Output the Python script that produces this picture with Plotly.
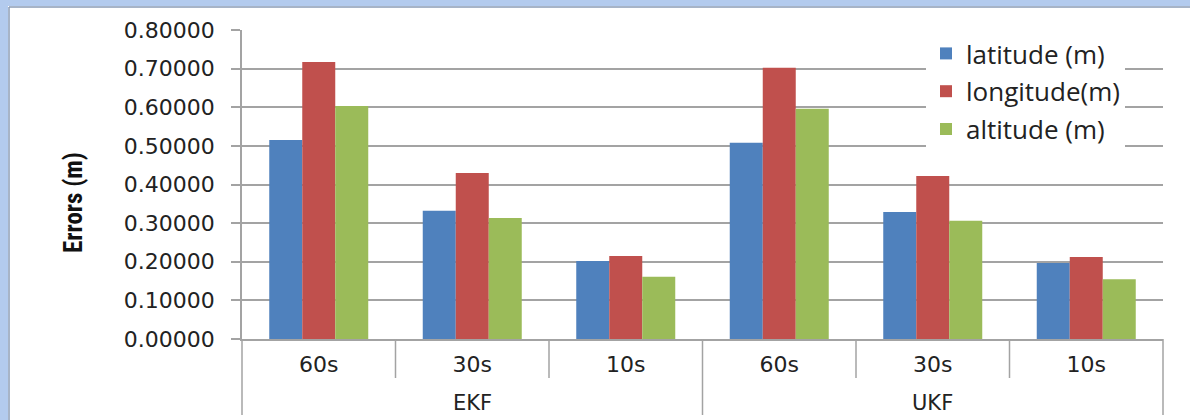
import plotly.graph_objects as go

filters = ["EKF", "EKF", "EKF", "UKF", "UKF", "UKF"]
windows = ["60s", "30s", "10s", "60s", "30s", "10s"]
latitude = [0.515, 0.332, 0.202, 0.508, 0.329, 0.197]
longitude = [0.717, 0.430, 0.215, 0.702, 0.422, 0.212]
altitude = [0.603, 0.313, 0.161, 0.596, 0.306, 0.155]
series_names = ["latitude (m)", "longitude(m)", "altitude (m)"]
colors = ["#4f81bd", "#c0504d", "#9bbb59"]
y_ticks = [0, 0.1, 0.2, 0.3, 0.4, 0.5, 0.6, 0.7, 0.8]

W, H = 1190, 420
L, R, T, B = 242, 27, 30, 81
pw, ph = W - L - R, H - T - B

def px_x(p):
    return (p - L) / pw

def px_y(p):
    return (H - B - p) / ph

keys = [f"{f} {w}" for f, w in zip(filters, windows)]

fig = go.Figure()
for name, vals, c, g in zip(series_names, [latitude, longitude, altitude], colors, ["a", "b", "c"]):
    fig.add_trace(go.Bar(x=keys, y=vals, name=name, marker_color=c,
                         marker_line_width=0, legendgroup=g))

grid_c = "#a3a3a3"
shapes = []
n = len(keys)
for i in range(1, n):
    if filters[i] != filters[i - 1]:
        continue
    shapes.append(dict(type="line", xref="x domain", yref="paper", x0=i / n, x1=i / n,
                       y0=0, y1=px_y(378), line=dict(color=grid_c, width=1.5)))
bounds = [0] + [i for i in range(1, n) if filters[i] != filters[i - 1]] + [n]
for b in bounds:
    shapes.append(dict(type="line", xref="x domain", yref="paper", x0=b / n, x1=b / n,
                       y0=0, y1=px_y(415), line=dict(color=grid_c, width=1.5)))

annotations = []
for a, b in zip(bounds[:-1], bounds[1:]):
    annotations.append(dict(xref="x", yref="paper", x=(a + b - 1) / 2, y=px_y(403),
                            text=filters[a], showarrow=False, yanchor="middle",
                            font=dict(family="DejaVu Sans, Verdana, sans-serif", size=21, color="#222")))
annotations.append(dict(xref="paper", yref="paper", x=px_x(73), y=px_y(203),
                        text="<b>Errors (m)</b>", textangle=-90, showarrow=False,
                        xanchor="center", yanchor="middle",
                        font=dict(family="Liberation Sans Narrow, Roboto Condensed, Arial Narrow, sans-serif",
                                  size=25, color="#111")))

# frame
shapes.append(dict(type="rect", xref="paper", yref="paper", x0=px_x(0), x1=px_x(8),
                   y0=px_y(420), y1=px_y(0), fillcolor="#b3cbee", line_width=0, layer="below"))
shapes.append(dict(type="rect", xref="paper", yref="paper", x0=px_x(0), x1=px_x(1190),
                   y0=px_y(6), y1=px_y(0), fillcolor="#b3cbee", line_width=0, layer="below"))
shapes.append(dict(type="line", xref="paper", yref="paper", x0=px_x(9), x1=px_x(9),
                   y0=px_y(420), y1=px_y(7), line=dict(color="#8a9bb5", width=1.5)))
shapes.append(dict(type="line", xref="paper", yref="paper", x0=px_x(9), x1=px_x(1190),
                   y0=px_y(7), y1=px_y(7), line=dict(color="#8a9bb5", width=1.5)))

fig.update_layout(
    width=W, height=H,
    margin=dict(l=L, r=R, t=T, b=B, autoexpand=False),
    paper_bgcolor="white", plot_bgcolor="white",
    barmode="group", bargap=0.355, bargroupgap=0,
    shapes=shapes, annotations=annotations,
    showlegend=True,
    legend=dict(x=px_x(926), y=px_y(30), xanchor="left", yanchor="top",
                bgcolor="white", font=dict(family="Open Sans, Liberation Sans, sans-serif",
                                           size=26, color="#222"),
                traceorder="grouped", tracegroupgap=1, itemwidth=30),
    xaxis=dict(type="category", tickvals=keys, ticktext=windows, showline=True,
               linecolor=grid_c, linewidth=1.5, ticks="", ticklabelstandoff=5,
               tickfont=dict(family="DejaVu Sans, Verdana, sans-serif", size=22, color="#222"),
               showgrid=False),
    yaxis=dict(range=[0, 0.8], tickvals=y_ticks, tickformat=".5f",
               showgrid=True, gridcolor=grid_c, gridwidth=1.5,
               showline=True, linecolor=grid_c, linewidth=1.5,
               ticks="outside", ticklen=9, tickcolor=grid_c, tickwidth=1.5,
               ticklabelstandoff=12,
               tickfont=dict(family="DejaVu Sans, Verdana, sans-serif", size=22, color="#222"),
               zeroline=False),
)
fig.write_html("out.html")
